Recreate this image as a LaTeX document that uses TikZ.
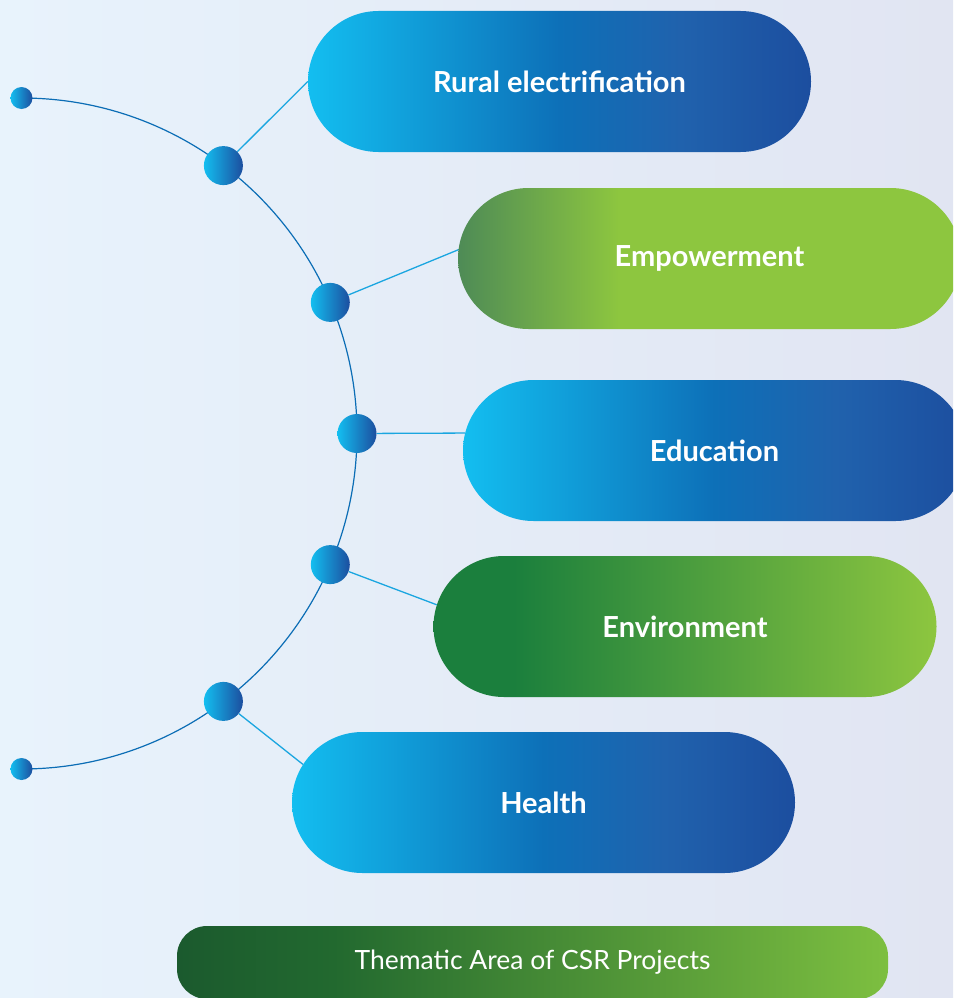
\documentclass[tikz,border=0pt]{standalone}
\usepackage{fontspec}
\setmainfont{Lato}
\usetikzlibrary{shapes.misc}
\definecolor{bgleft}{HTML}{E8F3FC}
\definecolor{bgright}{HTML}{E1E5F2}
\definecolor{pcyan}{HTML}{13BEF0}
\definecolor{pmid}{HTML}{0D70B8}
\definecolor{pblue}{HTML}{2062AD}
\definecolor{pnavy}{HTML}{1C4E9F}
\definecolor{polive}{HTML}{4E8B56}
\definecolor{plime}{HTML}{8DC63F}
\definecolor{pdkgreen}{HTML}{1B7F3D}
\definecolor{bardark}{HTML}{1B5A2E}
\definecolor{barmid}{HTML}{22692F}
\definecolor{barlime}{HTML}{7DBF40}
\definecolor{arcblue}{HTML}{0B6DB5}
\definecolor{linkblue}{HTML}{1AA6E0}
\pgfdeclarehorizontalshading{bluepill}{100bp}{color(0bp)=(pcyan); color(25bp)=(pcyan); color(50bp)=(pmid); color(62bp)=(pblue); color(75bp)=(pnavy); color(100bp)=(pnavy)}
\pgfdeclarehorizontalshading{greenpill}{100bp}{color(0bp)=(polive); color(25bp)=(polive); color(41bp)=(plime); color(100bp)=(plime)}
\pgfdeclarehorizontalshading{envpill}{100bp}{color(0bp)=(pdkgreen); color(25bp)=(pdkgreen); color(33bp)=(pdkgreen); color(75bp)=(plime); color(100bp)=(plime)}
\pgfdeclarehorizontalshading{barshade}{100bp}{color(0bp)=(bardark); color(25bp)=(bardark); color(36bp)=(barmid); color(75bp)=(barlime); color(100bp)=(barlime)}
\pgfdeclarehorizontalshading{dotshade}{100bp}{color(0bp)=(pcyan); color(25bp)=(pcyan); color(75bp)=(pnavy); color(100bp)=(pnavy)}
\tikzset{pill/.style = {rounded rectangle, minimum width=503, minimum height=141, inner sep=0, text=white, font=\bfseries\fontsize{29}{34}\selectfont}}
\tikzset{capbar/.style = {rectangle, rounded corners=30, minimum width=711, minimum height=73, inner sep=0, text=white, font=\fontsize{26.5}{31}\selectfont, shading=barshade}}
\tikzset{dot/.style = {circle, inner sep=0, minimum size=39, shading=dotshade}}
\tikzset{enddot/.style = {circle, inner sep=0, minimum size=22, shading=dotshade}}
\tikzset{arcline/.style = {arcblue, line width=1.2}}
\tikzset{link/.style = {linkblue, line width=1.3}}

\begin{document}
\begin{tikzpicture}[x=1pt,y=-1pt]
        \clip (0,0) rectangle (953,998);
        \shade [left color=bgleft, right color=bgright] (0,0) rectangle (953,998);
        \draw [arcline] (21.5,98) arc [start angle=-90, end angle=90, radius=335.5];
        \node [enddot] (top) at (21.5,98) {};
        \node [enddot] (bottom) at (21.5,769) {};
        \node [dot] (d1) at (223.4,165.6) {};
        \node [dot] (d2) at (330.3,302.4) {};
        \node [dot] (d3) at (357,433.5) {};
        \node [dot] (d4) at (330.3,564.6) {};
        \node [dot] (d5) at (223.4,701.4) {};
        \node [pill, shading=bluepill] (rural) at (559.5,81.5) {Rural electrification};
        \node [pill, shading=greenpill] (empower) at (709.5,258.5) {Empowerment};
        \node [pill, shading=bluepill] (edu) at (714.5,450.5) {Education};
        \node [pill, shading=envpill] (env) at (685,626.5) {Environment};
        \node [pill, shading=bluepill] (health) at (543.5,802.5) {Health};
        \node [capbar] (caption) at (532.5,962.5) {Thematic Area of CSR Projects};
        \draw [link] (d1) -- (rural.west);
        \draw [link] (d2) -- (empower.178.5);
        \draw [link] (d3) -- (edu.176);
        \draw [link] (d4) -- (env.175.5);
        \draw [link] (d5) -- (health.171.6);
    \end{tikzpicture}
\end{document}
